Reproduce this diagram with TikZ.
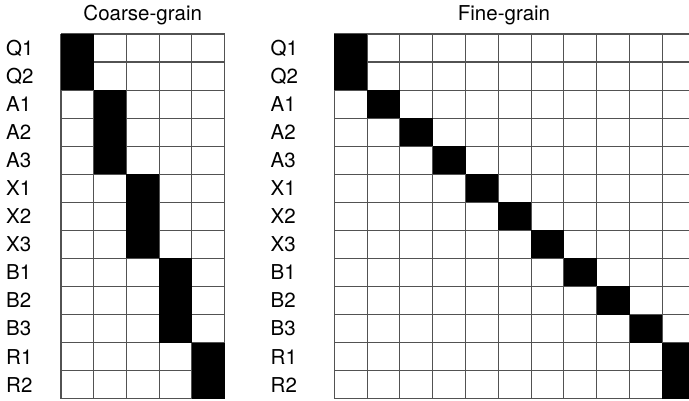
\documentclass[tikz,border=0pt]{standalone}
\usepackage{fontspec}
\setmainfont{TeX Gyre Heros}
\begin{document}
\begin{tikzpicture}[x=1pt,y=-1pt,
  gridline/.style={draw=black!68, line width=1.1pt},
  cellfill/.style={fill=black},
  lbl/.style={anchor=west, inner sep=0pt, font=\fontsize{20.5}{24}\selectfont},
  ttl/.style={anchor=base, inner sep=0pt, font=\fontsize{20.5}{24}\selectfont}]
\useasboundingbox (0,0) rectangle (689,401);
\clip (0,0) rectangle (689,401);
\def\rh{28.05}
\def\ya{34}
% titles
\node[ttl] (tc) at (142.7,21) {Coarse-grain};
\node[ttl] (tf) at (504,21) {Fine-grain};
% labels
\foreach \t [count=\i from 0] in {Q1,Q2,A1,A2,A3,X1,X2,X3,B1,B2,B3,R1,R2}{
  \node[lbl] (lc\i) at (6,{\ya+(\i+0.5)*\rh}) {\t};
  \node[lbl] (lf\i) at (270.5,{\ya+(\i+0.5)*\rh}) {\t};
}
% coarse grid
\def\cx{61}\def\cw{32.7}
\foreach \r in {0,...,13}
  \draw[gridline] (\cx,{\ya+\r*\rh}) -- ({\cx+5*\cw},{\ya+\r*\rh});
\foreach \c in {0,...,5}
  \draw[gridline] ({\cx+\c*\cw},\ya) -- ({\cx+\c*\cw},{\ya+13*\rh});
\foreach \r/\c in {0/0,1/0,2/1,3/1,4/1,5/2,6/2,7/2,8/3,9/3,10/3,11/4,12/4}
  \fill[cellfill] ({\cx+\c*\cw},{\ya+\r*\rh}) rectangle ({\cx+(\c+1)*\cw},{\ya+(\r+1)*\rh});
% fine grid
\def\fx{334.3}\def\fw{32.8}
\foreach \r in {0,...,13}
  \draw[gridline] (\fx,{\ya+\r*\rh}) -- ({\fx+11*\fw},{\ya+\r*\rh});
\foreach \c in {0,...,11}
  \draw[gridline] ({\fx+\c*\fw},\ya) -- ({\fx+\c*\fw},{\ya+13*\rh});
\foreach \r/\c in {0/0,1/0,2/1,3/2,4/3,5/4,6/5,7/6,8/7,9/8,10/9,11/10,12/10}
  \fill[cellfill] ({\fx+\c*\fw},{\ya+\r*\rh}) rectangle ({\fx+(\c+1)*\fw},{\ya+(\r+1)*\rh});
\end{tikzpicture}
\end{document}
